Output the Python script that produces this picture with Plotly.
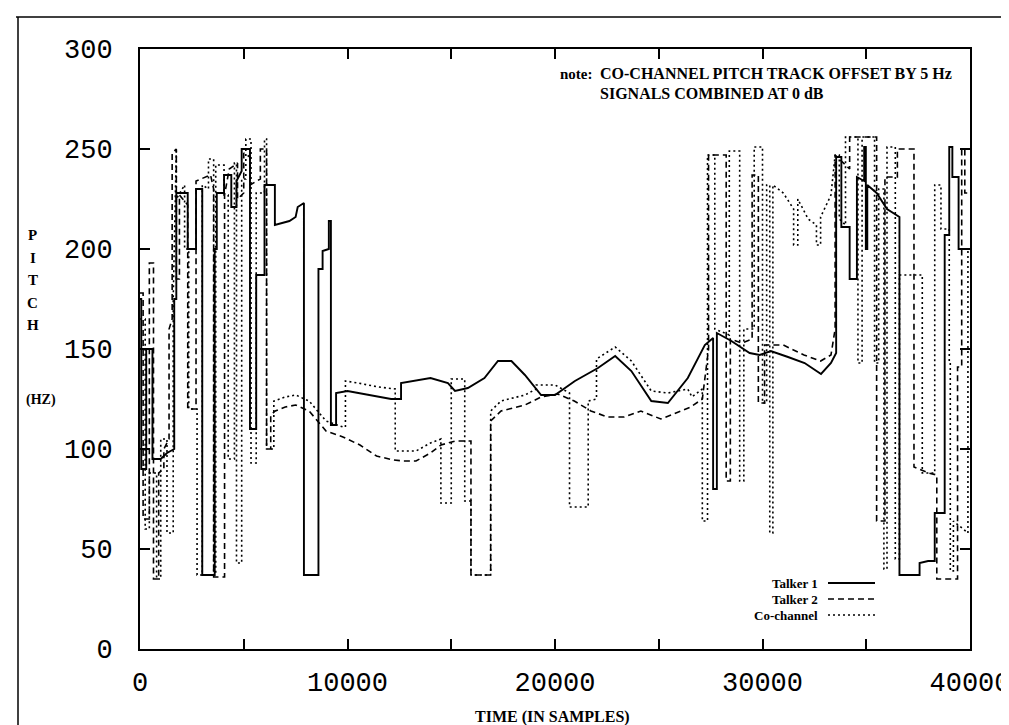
import plotly.graph_objects as go

# ---------------- data (time in samples, pitch in Hz) ----------------
talker1_t = [0, 60, 60, 300, 300, 600, 600, 1000, 1300, 1650, 1650, 1750, 1750, 2300, 2300, 2700, 2700, 3000, 3000, 3600,
             3600, 3700, 3700, 4050, 4050, 4400, 4400, 4650, 4650, 4900, 4900, 5300, 5300, 5600, 5600, 6000, 6000, 6500,
             6500, 7200, 7500, 7600, 7900, 7900, 8600, 8600, 8800, 8800, 9100, 9100, 9200, 9200, 9450, 9450, 10000,
             11000, 12100, 12580, 12580, 14000, 14840, 15180, 15800, 16600, 17250, 17900, 18550, 19330, 20000, 20960,
             22070, 22900, 23680, 24640, 25440, 26400, 27220, 27620, 27620, 27800, 27800, 28500, 29380, 29860, 30400,
             31230, 32030, 32820, 33300, 33550, 33550, 33800, 33800, 34200, 34200, 34550, 34550, 34900, 34900, 34980,
             34980, 35050, 35050, 35500, 36000, 36600, 36600, 37570, 37570, 37980, 38300, 38300, 38780, 38780, 39000,
             39000, 39150, 39150, 39450, 39450, 40000]
talker1_hz = [175, 175, 90, 90, 150, 150, 95, 95, 98, 100, 175, 175, 228, 228, 200, 200, 230, 230, 37, 37,
              200, 200, 228, 228, 237, 237, 221, 221, 234, 239, 250, 250, 110, 110, 187, 187, 232, 232,
              212, 214, 216, 221, 223, 37, 37, 190, 190, 199, 200, 214, 214, 112, 112, 128, 129,
              127, 125, 125, 133, 135.5, 133, 129, 130.5, 135.5, 144, 144, 137, 127, 127, 134,
              140.5, 146.5, 139, 124, 123, 135.5, 152, 155.5, 80, 80, 158, 154, 148, 147, 149,
              146, 143, 137.5, 143, 148, 246, 246, 211, 211, 185, 185, 236, 234, 251, 251,
              200, 200, 232, 228, 220, 216, 37, 37, 43, 44, 44, 68, 68, 207, 207,
              251, 251, 236, 236, 200, 200]

talker2_t = [0, 150, 150, 450, 450, 650, 650, 900, 900, 1150, 1150, 1400, 1400, 1550, 1550, 1750, 1750, 1900, 1900,
             2300, 2300, 2700, 2700, 3400, 3550, 3550, 4075, 4075, 4300, 4700, 4700, 5000, 5000, 5300, 5300, 5800,
             5800, 6100, 6100, 6300, 6300, 6520, 7000, 7500, 8150, 8965, 9780, 10600, 11400, 12200, 12700, 13300,
             14000, 14500, 15200, 15950, 15950, 16900, 16900, 17400, 18550, 19330, 20130, 20930, 21730, 22540, 23340,
             24140, 25100, 25740, 26540, 27100, 27400, 27400, 28250, 28250, 28450, 28450, 29000, 29500, 29500, 29800,
             29800, 30100, 30100, 31000, 32000, 32800, 33300, 33500, 33500, 34200, 34200, 35500, 35500, 35900, 35900,
             36500, 36500, 37300, 37300, 38000, 38400, 38400, 39400, 39400, 39600, 39600, 39750, 39750, 40000]
talker2_hz = [178, 178, 65, 65, 193, 193, 35, 35, 88, 90, 100, 105, 160, 165, 248, 250, 185, 185, 227,
              222, 120, 120, 234, 237, 230, 36, 36, 227, 240, 243, 225, 228, 248, 246, 232, 235,
              250, 250, 100, 100, 117, 119, 121, 122, 119, 109, 106, 102, 96.5, 94.5, 94, 94,
              98, 102, 104, 104, 37, 37, 114, 119, 122, 126, 127.5, 124, 119, 116, 116,
              119, 115, 117.5, 121, 125, 150, 247, 247, 84, 84, 155, 153, 155, 237, 237,
              123, 123, 152, 152, 147, 144, 147, 160, 247, 240, 256, 256, 64, 64, 236,
              236, 250, 250, 91, 88, 87, 35, 35, 141, 141, 250, 250, 228, 228]

cochan_t = [0, 250, 250, 450, 450, 800, 800, 1000, 1000, 1300, 1300, 1600, 1600, 1750, 1750, 2150, 2150, 2350, 2350,
            2750, 2750, 3000, 3000, 3300, 3300, 3550, 3550, 3650, 3650, 4050, 4050, 4250, 4250, 4550, 4550, 4650,
            4650, 4900, 4900, 5100, 5100, 5350, 5350, 5600, 5600, 6000, 6000, 6100, 6100, 6450, 6450, 7000, 7500,
            8150, 8965, 9780, 9900, 9900, 10500, 11500, 12300, 12300, 13300, 14000, 14500, 14500, 15000, 15000,
            15650, 15650, 15950, 15950, 16900, 16900, 17400, 18550, 19100, 19100, 20000, 20700, 20700, 21600, 21600,
            22000, 22000, 22900, 23680, 24640, 25440, 26400, 26600, 27100, 27100, 27350, 27350, 27700, 27700, 28400,
            28400, 28900, 28900, 29100, 29100, 29600, 29600, 30000, 30000, 30200, 30200, 30350, 30350, 30500, 30500,
            31000, 31500, 31500, 31700, 31700, 32200, 32600, 32600, 32800, 32800, 33300, 33500, 33700, 33700, 34000,
            34000, 34600, 34600, 34800, 34800, 35400, 35400, 35600, 35600, 35850, 35850, 36000, 36000, 36400, 36400,
            36600, 36600, 37700, 37700, 38300, 38300, 38600, 38600, 39000, 39000, 39050, 39050, 39200, 39200, 39900,
            39900, 40000]
cochan_hz = [165, 165, 60, 60, 88, 88, 35, 35, 105, 105, 58, 58, 175, 250, 225, 232, 200, 200, 120,
             120, 37, 37, 232, 230, 245, 245, 37, 37, 242, 242, 227, 227, 95, 95, 243, 243,
             43, 43, 235, 235, 255, 255, 93, 93, 228, 228, 255, 255, 100, 100, 124, 126, 127,
             124, 114, 111, 111, 134, 133, 131, 130, 99, 99, 103, 105, 73, 73, 135,
             135, 74, 74, 37, 37, 119, 124, 127, 130, 132, 132, 128, 71, 71, 124,
             125, 145, 151, 144, 129, 128, 130, 126, 130, 64, 64, 247, 247, 160, 157,
             249, 249, 84, 84, 160, 160, 251, 251, 123, 123, 232, 232, 58, 58, 232,
             228, 220, 202, 202, 225, 215, 212, 202, 202, 216, 227, 247, 247, 215, 212,
             256, 256, 143, 143, 256, 256, 143, 143, 230, 230, 40, 40, 251, 251, 45,
             45, 187, 187, 88, 88, 232, 232, 210, 210, 143, 143, 39, 39, 64, 58,
             200, 200]

x_tick_vals = [0, 10000, 20000, 30000, 40000]
x_tick_text = ["0", "10000", "20000", "30000", "40000"]
y_tick_vals = [0, 50, 100, 150, 200, 250, 300]
y_tick_text = ["0", "50", "100", "150", "200", "250", "300"]

series_names = ["Talker 1", "Talker 2", "Co-channel"]

# ---------------- figure ----------------
W, H = 1009, 725
L, R, T, B = 132, 962, 41, 641

def px(xp):
    return (xp - L) / (R - L)

def py(yp):
    return (B - yp) / (B - T)

fig = go.Figure()
styles = [dict(color="black", width=1.9),
          dict(color="black", width=1.6, dash="6px,4px"),
          dict(color="black", width=1.6, dash="2px,3px")]
for name, xs, ys, st in zip(series_names, [talker1_t, talker2_t, cochan_t],
                            [talker1_hz, talker2_hz, cochan_hz], styles):
    fig.add_trace(go.Scatter(x=xs, y=ys, mode="lines", name=name, line=st,
                             showlegend=False, hoverinfo="x+y+name"))

tickfont = dict(family="Liberation Mono, DejaVu Sans Mono, monospace", size=27, color="black")
fig.update_xaxes(range=[0, 40000], tickvals=x_tick_vals, ticktext=x_tick_text,
                 ticks="inside", ticklen=10, tickwidth=1.5, tickcolor="black",
                 minor=dict(dtick=5000, ticks="inside", ticklen=10, tickwidth=1.5, tickcolor="black"),
                 showline=True, linecolor="black", linewidth=2, mirror="ticks",
                 showgrid=False, zeroline=False, tickfont=tickfont, ticklabelstandoff=8)
fig.update_yaxes(range=[0, 300], tickvals=y_tick_vals, ticktext=y_tick_text,
                 ticks="inside", ticklen=10, tickwidth=1.5, tickcolor="black",
                 showline=True, linecolor="black", linewidth=2, mirror="ticks",
                 showgrid=False, zeroline=False, tickfont=tickfont, ticklabelstandoff=20)

serif_b = dict(family="Liberation Serif", color="black")
ann = []
# note text
ann.append(dict(x=px(587), y=py(66), xref="paper", yref="paper", xanchor="right", yanchor="middle",
                text="<b>note:</b>", showarrow=False, font=dict(size=15, **serif_b)))
ann.append(dict(x=px(590), y=py(66), xref="paper", yref="paper", xanchor="left", yanchor="middle",
                text="<b>CO-CHANNEL PITCH TRACK OFFSET BY 5 Hz</b>", showarrow=False, font=dict(size=16, **serif_b)))
ann.append(dict(x=px(590), y=py(85), xref="paper", yref="paper", xanchor="left", yanchor="middle",
                text="<b>SIGNALS COMBINED AT 0 dB</b>", showarrow=False, font=dict(size=16, **serif_b)))
# axis titles
ann.append(dict(x=px(544), y=py(709), xref="paper", yref="paper", xanchor="center", yanchor="middle",
                text="<b>TIME (IN SAMPLES)</b>", showarrow=False, font=dict(size=16, **serif_b)))
for letter, yy in zip(["P", "I", "T", "C", "H"], [227, 250, 272, 295, 317]):
    ann.append(dict(x=px(25), y=py(yy), xref="paper", yref="paper", xanchor="center", yanchor="middle",
                    text="<b>%s</b>" % letter, showarrow=False, font=dict(size=15, **serif_b)))
ann.append(dict(x=px(33), y=py(392), xref="paper", yref="paper", xanchor="center", yanchor="middle",
                text="<b>(HZ)</b>", showarrow=False, font=dict(size=14, **serif_b)))

# manual legend (text left of the line sample, as in the original)
shapes = []
leg_y = [575, 591, 607]
for name, yy, st in zip(series_names, leg_y, styles):
    ann.append(dict(x=px(812), y=py(yy), xref="paper", yref="paper", xanchor="right", yanchor="middle",
                    text="<b>%s</b>" % name, showarrow=False, font=dict(size=13, **serif_b)))
    shapes.append(dict(type="line", xref="paper", yref="paper", x0=px(820), x1=px(867), y0=py(yy), y1=py(yy),
                       line=st))

# outer scan frame
shapes.append(dict(type="line", xref="paper", yref="paper", x0=px(8), x1=px(1004), y0=py(9), y1=py(9),
                   line=dict(color="black", width=1.5)))
shapes.append(dict(type="line", xref="paper", yref="paper", x0=px(10), x1=px(10), y0=py(9), y1=py(725),
                   line=dict(color="black", width=1.5)))
shapes.append(dict(type="line", xref="paper", yref="paper", x0=px(1003), x1=px(1003), y0=py(9), y1=py(725),
                   line=dict(color="black", width=1.5)))

fig.update_layout(width=W, height=H, margin=dict(l=L, r=W - R, t=T, b=H - B, autoexpand=False),
                  paper_bgcolor="white", plot_bgcolor="white", annotations=ann, shapes=shapes,
                  showlegend=False)

fig.write_html("out.html")
